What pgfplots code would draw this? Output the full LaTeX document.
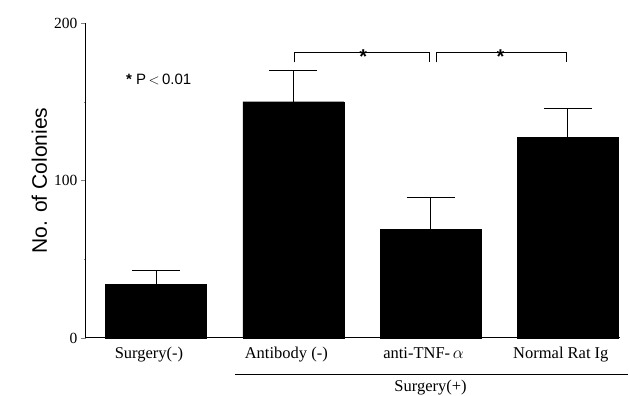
\documentclass[border=0pt]{standalone}
\usepackage{pgfplots}
\pgfplotsset{compat=1.18}
\usepackage{fontspec}
\setmainfont{Liberation Serif}
\newfontfamily\lsans{Liberation Sans}
\begin{document}
\begin{tikzpicture}
\path[use as bounding box] (-86pt,-58pt) rectangle (543pt,338pt);
\begin{axis}[
  at={(0,0)}, anchor=south west,
  scale only axis, width=534pt, height=315pt,
  axis lines=left, axis line style={line width=1pt, -},
  xmin=-0.51, xmax=3.38, ymin=0, ymax=200,
  xtick=data, xticklabels={Surgery(-),Antibody (-),anti-TNF-\,$\alpha$,Normal Rat Ig},
  xtick style={draw=none},
  xticklabel style={font=\fontsize{16.5}{18}\selectfont, yshift=-1pt, xshift=-7pt},
  ytick={0,100,200}, minor ytick={50,150},
  tick align=outside, major tick length=5pt, minor tick length=2pt,
  yticklabel style={font=\fontsize{15.5}{16}\selectfont},
  /pgf/number format/assume math mode=true,
  clip=false,
]
\addplot[ybar, bar width=101pt, fill=black, draw=black,
  error bars/.cd, y dir=plus, y explicit,
  error bar style={line width=1pt, black},
  error mark options={rotate=90, mark size=24pt, line width=1pt, black}]
  coordinates {(0,34) +- (0,9) (1,150) +- (0,20) (2,69) +- (0,20) (3,127.5) +- (0,18.5)};
\draw[line width=1pt] (axis cs:1.01,175) -- (axis cs:1.01,181) -- (axis cs:1.99,181) -- (axis cs:1.99,175);
\draw[line width=1pt] (axis cs:2.04,175) -- (axis cs:2.04,181) -- (axis cs:2.99,181) -- (axis cs:2.99,175);
\node[font=\lsans\bfseries\fontsize{20}{20}\selectfont] at (axis cs:1.51,178.5) {*};
\node[font=\lsans\bfseries\fontsize{20}{20}\selectfont] at (axis cs:2.51,178.5) {*};
\node[font=\lsans\fontsize{15}{16}\selectfont] at (axis cs:0.02,164) {{\bfseries*} P\,$<$\,0.01};
\node[rotate=90, font=\lsans\fontsize{21}{22}\selectfont] at (axis cs:-0.85,100) {No. of Colonies};
\draw[line width=0.8pt] (axis cs:0.575,-23) -- (axis cs:3.44,-23);
\node[font=\fontsize{16.5}{18}\selectfont] at (axis cs:2.0,-31.5) {Surgery(+)};
\end{axis}
\end{tikzpicture}
\end{document}
